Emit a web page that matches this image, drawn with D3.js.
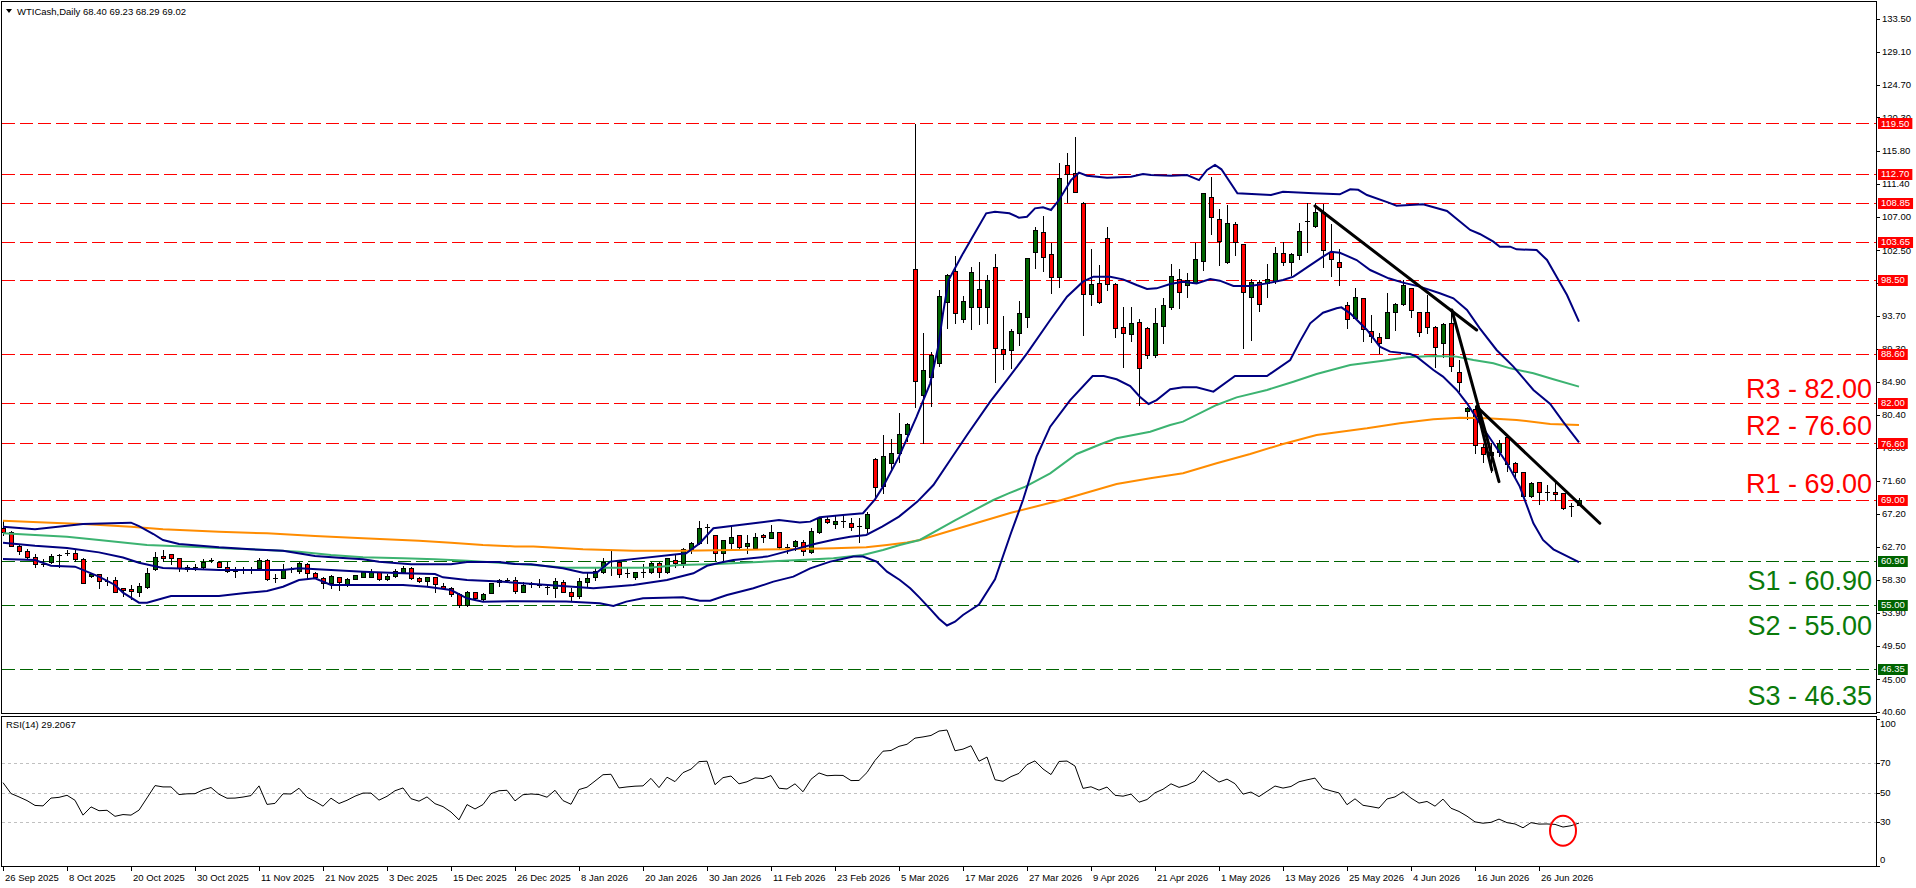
<!DOCTYPE html>
<html lang="en">
<head>
<meta charset="UTF-8">
<title>WTICash,Daily</title>
<style>
  body { margin: 0; background: #fff; }
  svg { display: block; }
  text { font-family: "Liberation Sans", Arial, sans-serif; }
</style>
</head>
<body>
<svg width="1916" height="888"></svg>
<script src="https://d3js.org/d3.v7.min.js"></script>
<script>
// daily bars, 26 Sep 2025 .. early Jul 2026
var open = [65.30,64.68,62.81,62.14,61.42,60.40,60.75,61.50,61.80,61.87,
  61.07,58.83,59.05,58.20,58.30,57.18,57.10,56.73,57.40,59.73,
  61.50,61.74,61.20,59.73,60.00,60.00,60.95,60.66,60.08,59.50,
  59.55,59.70,59.86,60.97,58.50,58.52,59.70,59.55,60.39,59.19,
  58.52,57.85,58.74,57.72,58.39,58.74,58.65,59.32,58.39,58.83,
  59.32,59.86,58.52,58.16,58.65,57.54,57.18,56.37,54.94,56.64,
  55.70,56.50,57.98,58.30,58.25,56.74,57.72,57.60,57.35,57.18,
  57.99,56.65,56.15,58.07,58.74,59.41,60.80,60.76,59.20,58.65,
  59.33,59.41,60.53,59.41,60.98,60.62,62.41,63.31,65.30,64.33,
  61.87,63.31,64.33,62.90,62.63,64.33,63.89,64.69,62.77,62.86,
  63.44,62.10,64.78,66.43,65.76,66.10,65.90,65.45,65.23,74.48,
  70.92,74.03,75.28,77.82,99.94,83.10,85.46,87.34,95.61,99.76,
  93.24,94.94,97.26,94.94,100.30,89.22,89.17,91.45,93.60,102.31,
  104.99,101.99,98.87,113.93,112.81,108.88,96.59,98.06,104.10,97.93,
  92.17,91.23,92.84,92.03,88.46,92.40,94.85,98.60,97.84,98.15,
  101.10,109.59,106.64,100.97,105.97,103.34,96.28,98.20,98.06,98.42,
  102.08,100.97,101.86,106.30,105.75,107.58,102.22,100.88,95.16,93.46,
  96.06,91.72,90.92,90.78,94.27,95.30,97.40,94.27,94.27,92.17,
  90.11,92.70,86.23,80.95,81.18,76.17,75.06,75.50,77.51,73.94,
  72.82,69.60,71.39,70.15,70.15,69.92,68.20,68.40]
var high = [66.34,64.90,63.12,62.45,61.78,61.07,61.74,61.78,62.30,62.45,
  61.20,59.30,59.10,58.74,58.65,57.20,57.60,57.85,59.86,62.10,
  62.30,61.74,61.20,60.30,60.50,61.07,61.20,60.90,60.75,60.08,
  60.08,60.10,61.20,61.07,59.05,60.40,60.08,60.75,60.53,59.40,
  58.65,58.96,58.74,58.52,58.96,59.50,59.77,59.41,59.05,59.77,
  60.17,60.08,58.74,58.74,58.74,57.85,57.40,56.50,56.87,56.73,
  56.50,57.85,58.43,58.60,58.65,58.07,58.07,58.43,57.63,58.52,
  58.30,57.18,58.52,59.41,59.86,61.20,62.19,60.85,60.00,59.41,
  60.44,60.76,60.76,61.20,61.65,62.54,63.44,66.21,65.81,64.33,
  63.66,65.45,64.33,64.33,64.56,64.47,65.67,64.69,63.13,63.66,
  63.66,65.23,66.79,66.93,67.01,67.10,66.57,66.57,67.46,74.60,
  77.74,77.16,80.64,79.30,119.42,91.40,88.85,97.17,99.27,101.73,
  96.40,100.30,100.97,99.18,102.00,93.68,91.90,95.74,101.42,105.66,
  107.09,103.51,114.15,115.49,117.63,109.01,102.62,100.52,105.66,98.06,
  94.94,94.94,93.24,92.20,94.72,96.06,100.66,99.94,99.40,103.51,
  110.13,112.36,107.98,108.57,106.33,103.34,98.60,98.51,100.66,102.89,
  103.65,102.17,106.11,108.79,108.79,108.70,106.02,102.62,95.61,97.40,
  96.06,93.82,91.36,96.73,95.39,98.51,97.40,94.27,96.50,92.35,
  92.70,94.27,87.79,81.53,81.62,76.53,76.62,77.07,77.74,74.16,
  72.82,71.48,71.48,71.03,71.48,69.92,68.67,69.23]
var low = [64.33,62.80,61.78,61.07,60.08,60.20,60.62,60.10,61.60,60.90,
  57.85,58.70,57.20,57.63,56.64,56.15,55.70,56.20,57.18,59.64,
  60.90,60.44,59.50,59.50,59.64,59.95,60.66,60.08,59.40,58.65,
  59.30,59.30,59.77,58.30,57.98,58.52,59.40,59.20,58.52,58.52,
  57.20,57.18,56.96,57.49,58.39,58.65,58.65,58.30,58.30,58.65,
  59.19,58.39,58.07,57.63,56.73,57.09,56.15,54.72,54.85,55.60,
  55.60,56.50,57.54,58.00,56.50,56.74,57.40,57.40,56.37,56.06,
  56.65,55.53,55.84,57.40,58.30,59.19,58.97,58.74,58.65,58.43,
  58.74,59.28,58.65,59.28,60.09,60.09,61.87,63.13,63.31,60.98,
  60.76,62.41,62.41,61.96,62.54,63.44,63.89,62.54,61.87,62.32,
  61.65,61.96,64.65,65.90,65.32,65.45,65.00,63.44,64.78,69.10,
  70.00,73.00,74.16,76.97,81.50,76.62,81.62,87.00,92.03,92.79,
  92.90,91.90,92.60,92.79,84.80,86.60,86.67,89.80,92.26,100.07,
  99.76,96.72,97.62,109.01,110.26,91.10,95.20,95.48,97.17,90.90,
  86.89,90.38,81.76,88.00,88.15,90.02,94.58,94.80,96.28,98.06,
  99.85,104.68,100.52,100.75,101.86,89.44,90.47,94.40,96.19,98.06,
  100.52,99.18,101.28,102.31,105.66,100.30,99.05,97.84,92.12,93.46,
  90.38,90.25,88.77,90.69,91.81,95.16,93.50,91.00,91.45,86.90,
  88.15,86.36,83.68,79.84,75.28,74.16,72.82,74.92,72.96,72.15,
  69.47,69.38,68.44,69.03,69.03,67.77,66.88,68.29]
var close = [64.70,62.81,62.14,61.42,60.39,60.30,61.47,61.60,61.90,61.07,
  57.85,59.10,58.16,58.22,56.73,56.96,56.82,57.45,59.19,61.42,
  61.20,61.20,59.95,60.08,60.10,60.66,61.00,60.08,59.50,59.52,
  59.64,59.80,60.97,58.39,58.52,59.77,59.75,60.53,59.28,58.65,
  57.85,58.83,57.98,58.39,58.92,59.32,59.32,58.39,58.83,59.50,
  59.86,58.52,58.16,58.65,57.72,57.27,56.42,54.94,56.64,55.84,
  56.37,57.85,58.30,58.35,56.78,57.63,57.74,57.65,57.30,58.16,
  56.74,56.15,58.16,58.52,59.55,60.76,60.85,59.06,59.22,59.33,
  59.38,60.53,59.41,61.20,60.62,62.41,63.22,65.23,65.40,61.96,
  63.66,64.11,62.77,63.22,64.11,64.02,64.69,62.68,62.54,63.53,
  62.19,64.87,66.57,66.12,66.21,66.20,65.45,65.47,67.15,70.72,
  74.92,75.28,77.83,79.21,85.02,86.45,88.46,96.37,99.18,94.04,
  95.70,99.54,94.85,98.51,89.35,88.59,91.72,94.04,101.42,105.20,
  101.64,98.96,112.14,112.72,110.26,96.59,97.97,95.61,97.97,92.03,
  91.36,92.70,86.76,88.40,92.70,95.16,99.09,96.94,98.51,101.28,
  110.13,106.91,103.78,106.11,103.56,96.94,98.29,95.29,98.60,102.17,
  100.97,102.00,105.12,106.36,107.58,102.53,101.28,100.21,93.24,96.19,
  91.90,91.00,90.02,94.27,95.30,97.84,94.49,91.59,92.26,89.58,
  92.62,87.03,84.80,81.31,76.40,75.19,75.50,76.62,73.85,72.82,
  69.60,71.26,70.05,70.10,69.83,67.91,68.25,69.02]

// RSI(14), one value per bar
var rsi = [56.7,49.3,47.0,44.5,41.2,40.9,46.2,46.7,48.1,44.7,
  34.6,40.2,37.6,37.9,33.8,35.0,34.6,38.0,46.3,54.7,
  53.8,53.8,48.6,49.1,49.2,51.8,53.4,48.8,46.1,46.2,
  46.9,47.9,54.5,41.9,42.6,49.1,49.0,52.9,46.8,44.0,
  40.7,46.1,42.5,44.7,47.5,49.6,49.6,44.8,47.4,51.2,
  53.1,45.8,44.1,47.0,42.4,40.4,36.7,31.4,41.8,38.8,
  41.8,49.2,51.2,51.5,44.3,48.5,49.0,48.6,46.8,51.5,
  44.5,42.0,52.0,53.6,57.8,62.1,62.4,53.1,53.8,54.3,
  54.5,59.6,53.3,60.4,57.4,63.5,65.9,71.0,71.3,55.3,
  60.1,61.2,55.9,57.3,59.9,59.5,61.5,52.9,52.4,55.9,
  50.5,59.0,63.3,61.4,61.7,61.6,58.1,58.2,63.6,71.8,
  78.1,78.6,81.4,82.8,87.0,87.8,88.8,91.8,92.5,78.4,
  79.5,81.8,71.3,74.1,58.7,57.6,60.8,63.0,69.0,71.5,
  66.0,62.2,71.1,71.4,68.0,52.8,53.9,51.6,53.7,48.1,
  47.5,48.9,43.4,45.2,49.8,52.2,55.9,53.5,55.0,57.7,
  64.9,60.8,57.1,59.1,56.0,48.9,50.3,47.2,50.8,54.4,
  53.0,54.1,57.3,58.6,59.8,52.7,51.1,49.7,41.7,45.7,
  41.3,40.4,39.4,45.6,47.0,50.5,46.2,42.8,43.9,40.7,
  45.5,39.3,37.1,33.9,30.0,29.1,29.7,31.9,29.5,28.6,
  26.0,29.5,28.5,28.6,28.3,26.5,27.4,29.21]

// indicator lines as [bar, value]
var bbUpper = [[0,65.44],[4,65.09],[10,65.8],[16,65.98],[17,65.53],[18.8,64.46],[20,63.66],[22,63.12],[27,62.67],[31,62.41],[35,62.23],[39,61.51],[42,61.29],[45,61.07],[47,60.75],[51,60.4],[56,60.4],[58,60.71],[62,60.71],[64,60.44],[66,60.4],[70,59.86],[72.5,59.28],[74.2,59.28],[75.9,60.76],[85.4,61.87],[87.1,63.22],[88.8,65.23],[91.3,65.58],[94.6,65.99],[97,66.34],[99.6,65.99],[100.9,66.12],[102.1,66.7],[105,67.0],[107.5,67.24],[109,69.11],[110,70.81],[112,74.83],[114.2,80.19],[115.9,84.66],[116.9,89.57],[117.5,94.04],[118.2,98.5],[120,102.08],[121.1,104.1],[122.9,107.45],[124,107.67],[125.8,107.45],[127,106.87],[128,107.0],[129,108.12],[130,108.25],[131,107.9],[132,109.23],[133.5,111.9],[134.5,112.9],[135.5,112.5],[138,112.23],[141,112.36],[142.5,112.72],[143.5,112.59],[146,112.5],[148,112.59],[149.5,111.9],[150.5,113.26],[151.5,113.93],[152.3,113.35],[154.3,110.13],[158.5,109.9],[160,110.35],[163.8,110.13],[167.1,110.0],[168.4,110.67],[169.4,110.6],[170.5,109.9],[173.2,108.88],[174.2,108.48],[177.5,108.66],[180.5,107.76],[183.4,105.22],[184.6,104.68],[186.3,103.65],[187.1,102.98],[188.4,102.98],[189.2,102.62],[191.7,102.53],[193,101.2],[194.2,98.96],[195.5,96.5],[197,92.93]]
var bbMid = [[0,63.3],[4,62.9],[8,62.6],[12,62.0],[15,61.3],[17,60.6],[20,59.9],[23,59.8],[27,59.64],[35,59.64],[37,59.86],[41,59.64],[45,59.41],[50,59.19],[54,59.1],[55,58.65],[58,58.3],[62.1,58.08],[66.3,57.76],[72.1,57.32],[73.8,57.18],[78.8,57.63],[83,58.3],[86.3,59.19],[88,60.2],[89.6,60.6],[91.3,60.98],[95.5,61.43],[97.5,62.0],[99.6,62.6],[101.7,63.2],[103.8,63.7],[105.9,64.1],[107.9,64.33],[109.9,65.45],[112,66.79],[114.3,68.8],[116.3,71.03],[118.4,74.38],[120.5,77.73],[123.4,82.2],[125.5,85.11],[128,88.68],[130.9,93.15],[133,96.28],[135,98.29],[136.3,98.96],[138.4,98.96],[140,98.6],[141.7,97.84],[143,97.3],[144.2,97.39],[145.9,97.97],[147.5,98.29],[149.2,98.06],[150.9,98.64],[152.1,98.42],[153.8,97.71],[155.9,97.71],[158,98.06],[160,98.51],[161.3,98.96],[163,100.21],[165,101.64],[166,102.31],[167.1,102.17],[169.2,101.19],[170.9,99.85],[173.2,98.74],[175,98.16],[177.1,97.62],[179.6,96.73],[181.3,96.06],[183,94.49],[184.6,92.03],[186.7,89.13],[188.8,86.9],[191.3,83.77],[193.4,81.89],[195,79.52],[197,76.75]]
var bbLower = [[0,61.11],[4,60.98],[6,60.22],[9,60.08],[12,58.74],[14,57.63],[15,56.6],[17,55.26],[18,55.26],[20,55.84],[21,56.15],[27,56.15],[30,56.51],[33,56.82],[35,57.4],[37,58.3],[39,58.52],[41,57.63],[50,57.63],[53,57.4],[56,56.95],[58,55.84],[60,55.39],[64,55.45],[70.4,55.4],[74.6,55.17],[76.3,54.82],[77.9,55.4],[80,55.84],[85,55.98],[87.1,55.53],[88.4,55.53],[90.5,56.29],[93.8,57.18],[96.3,58.08],[98.8,58.75],[100.9,59.86],[103.4,60.76],[106.3,61.43],[107.5,61.43],[109.2,60.76],[110.5,59.42],[112.1,58.3],[113.4,57.18],[114.6,55.9],[116,54.3],[117,53.1],[118,52.2],[119,52.7],[120,53.6],[122,55.0],[124,58.4],[126,64.6],[127.5,69.02],[129.2,74.83],[130.9,78.85],[133.4,82.42],[136.2,85.64],[137.6,85.64],[139.2,85.2],[140.9,84.3],[142.1,82.87],[143.2,81.89],[144.2,82.42],[145.9,83.86],[147.5,84.12],[149.2,84.12],[151.3,83.54],[154,85.64],[158,85.64],[160.9,87.79],[162.1,90.25],[163.4,92.7],[165,94.13],[166.7,94.72],[167.3,94.85],[168.4,94.04],[170.5,91.81],[172.1,89.58],[173.4,88.91],[175.9,88.59],[176.7,88.24],[178.8,86.45],[180,85.56],[181.7,83.77],[183,81.98],[184.6,79.3],[186.3,76.62],[188,73.94],[189.6,70.81],[191.3,65.9],[192.5,63.66],[193.8,62.41],[197,60.7]]
var maFast = [[0,64.55],[8,64.1],[12,63.66],[18,62.99],[25,62.67],[29,62.5],[33,62.32],[37,62.09],[41,61.65],[45,61.33],[50,61.2],[54,61.07],[58,60.89],[62,60.62],[66.3,60.31],[70.4,59.95],[80.7,59.95],[84.6,60.31],[89.2,60.44],[95.5,60.76],[99.6,60.98],[103.8,61.2],[107.5,61.65],[110,62.32],[112.1,62.99],[114.6,63.66],[119,66.3],[123.8,69.02],[125.7,69.9],[127.8,70.81],[130.9,72.6],[134.2,75.19],[137.5,76.62],[139.2,77.29],[143.4,78.18],[145.9,79.07],[147.5,79.52],[151.7,81.76],[154.2,82.78],[158,83.77],[161.3,84.88],[164.2,85.91],[168.4,87.12],[172.5,87.7],[175.5,88.15],[178.8,88.33],[181.7,88.24],[183.8,87.79],[186.3,87.34],[188.4,86.67],[191.3,86.0],[193.8,85.2],[197,84.22]]
var maSlow = [[0,66.25],[6,65.98],[10,65.8],[16,65.44],[20,65.09],[27,64.77],[33,64.55],[39,64.19],[45,63.88],[52,63.57],[56,63.3],[60,62.99],[64,62.8],[66.3,62.77],[72.5,62.41],[78.8,62.23],[85,62.23],[91.3,62.32],[97.5,62.41],[103.8,62.54],[107.9,62.68],[110.5,62.99],[113,63.31],[114.6,63.66],[120,65.4],[126,67.3],[132.3,69.02],[135.1,69.9],[139.2,71.17],[143.4,71.93],[147.5,72.6],[151.7,73.94],[155.9,75.19],[160,76.53],[164.2,77.73],[166.3,78.05],[170.5,78.63],[174.6,79.3],[178.8,79.84],[182.1,80.06],[185.5,79.97],[189.2,79.75],[193.4,79.21],[197,79.08]]

var resLevels = [119.50, 112.70, 108.85, 103.65, 98.50, 88.60, 82.00, 76.60, 69.00]
var supLevels = [60.90, 55.00, 46.35]
var levelNames = ['R3 - 82.00', 'R2 - 76.60', 'R1 - 69.00', 'S1 - 60.90', 'S2 - 55.00', 'S3 - 46.35']
var levelNameAt = [82.00, 76.60, 69.00, 60.90, 55.00, 46.35]
// trend lines: [bar1, price1, bar2, price2]
var trendLines = [[164, 108.43, 184.2, 91.81], [181.1, 94.49, 187.0, 71.48], [184.2, 81.53, 186.1, 73.04], [184.2, 81.53, 199.6, 65.9]]

var priceTicks = [133.50,129.10,124.70,120.30,115.80,111.40,107.00,102.50,98.10,93.70,89.30,84.90,80.40,76.00,71.60,67.20,62.70,58.30,53.90,49.50,45.00,40.60]
var rsiTicks = [100, 70, 50, 30, 0]
var rsiLevels = [70, 50, 30]
var dateIdx = [0,8,16,24,32,40,48,56,64,72,80,88,96,104,112,120,128,136,144,152,160,168,176,184,192]
var dateLabels = ['26 Sep 2025','8 Oct 2025','20 Oct 2025','30 Oct 2025','11 Nov 2025','21 Nov 2025','3 Dec 2025','15 Dec 2025','26 Dec 2025','8 Jan 2026','20 Jan 2026','30 Jan 2026','11 Feb 2026','23 Feb 2026','5 Mar 2026','17 Mar 2026','27 Mar 2026','9 Apr 2026','21 Apr 2026','1 May 2026','13 May 2026','25 May 2026','4 Jun 2026','16 Jun 2026','26 Jun 2026']
var circleAt = [195, 24]

var svg = d3.select('svg')
var L = 2, R = 1876, mainTop = 2, mainBot = 714, rsiTop = 717, rsiBot = 867
var fs = 9.5

var x = d3.scaleLinear().domain([0, 234]).range([3, 1875])
var y = d3.scaleLinear().domain([40.6, 133.5]).range([712, 19])
var ry = d3.scaleLinear().domain([0, 100]).range([866, 719])

var defs = svg.append('defs')
defs.append('clipPath').attr('id', 'clipMain').append('rect')
    .attr('x', L).attr('y', mainTop).attr('width', R - L).attr('height', mainBot - mainTop)
defs.append('clipPath').attr('id', 'clipRsi').append('rect')
    .attr('x', L).attr('y', rsiTop).attr('width', R - L).attr('height', rsiBot - rsiTop)

var main = svg.append('g').attr('clip-path', 'url(#clipMain)')

// horizontal levels
main.selectAll('line.res').data(resLevels).enter().append('line')
    .attr('x1', L).attr('x2', R)
    .attr('y1', d => Math.round(y(d)) + 0.5).attr('y2', d => Math.round(y(d)) + 0.5)
    .attr('stroke', '#ff0000').attr('stroke-dasharray', '13,5')
main.selectAll('line.sup').data(supLevels).enter().append('line')
    .attr('x1', L).attr('x2', R)
    .attr('y1', d => Math.round(y(d)) + 0.5).attr('y2', d => Math.round(y(d)) + 0.5)
    .attr('stroke', '#006400').attr('stroke-dasharray', '13,5')

// candles
var bars = d3.range(close.length)
var gc = main.append('g').attr('shape-rendering', 'crispEdges')
gc.selectAll('line.wick').data(bars).enter().append('line')
    .attr('x1', i => Math.round(x(i)) + 0.5).attr('x2', i => Math.round(x(i)) + 0.5)
    .attr('y1', i => Math.round(y(high[i]))).attr('y2', i => Math.round(y(low[i])) + 1)
    .attr('stroke', '#000')
bars.forEach(function (i) {
    var cx = Math.round(x(i))
    var top = Math.round(y(Math.max(open[i], close[i])))
    var bot = Math.round(y(Math.min(open[i], close[i])))
    if (bot - top < 2) {
        gc.append('line').attr('x1', cx - 2).attr('x2', cx + 3)
            .attr('y1', top + 0.5).attr('y2', top + 0.5).attr('stroke', '#000')
    } else {
        gc.append('rect').attr('x', cx - 1.5).attr('y', top + 0.5)
            .attr('width', 4).attr('height', bot - top)
            .attr('fill', close[i] >= open[i] ? '#006400' : '#ff0000')
            .attr('stroke', '#000')
    }
})

var line = d3.line().x(d => x(d[0])).y(d => y(d[1]))
main.append('path').attr('d', line(maSlow)).attr('fill', 'none').attr('stroke', '#ff8c00').attr('stroke-width', 2)
main.append('path').attr('d', line(maFast)).attr('fill', 'none').attr('stroke', '#3cb371').attr('stroke-width', 2)
;[bbUpper, bbMid, bbLower].forEach(function (s) {
    main.append('path').attr('d', line(s)).attr('fill', 'none').attr('stroke', '#000080').attr('stroke-width', 2)
})

main.selectAll('line.trend').data(trendLines).enter().append('line')
    .attr('x1', d => x(d[0])).attr('y1', d => y(d[1]))
    .attr('x2', d => x(d[2])).attr('y2', d => y(d[3]))
    .attr('stroke', '#000').attr('stroke-width', 3).attr('stroke-linecap', 'round')

// big level captions
var capDy = [-5, -8, -7, 29, 30, 36]
main.selectAll('text.cap').data(levelNames).enter().append('text')
    .attr('x', 1872).attr('y', (d, k) => y(levelNameAt[k]) + capDy[k])
    .attr('text-anchor', 'end').attr('font-size', 27)
    .attr('fill', (d, k) => k < 3 ? '#ff0000' : '#0a7a0a')
    .text(d => d)

// title
svg.append('path').attr('d', 'M6,9L12,9L9,13Z').attr('fill', '#000')
svg.append('text').attr('x', 17).attr('y', 15).attr('font-size', fs)
    .text('WTICash,Daily  68.40 69.23 68.29 69.02')

// price axis
var ga = svg.append('g').attr('shape-rendering', 'crispEdges')
ga.selectAll('line.pt').data(priceTicks).enter().append('line')
    .attr('x1', R).attr('x2', R + 4)
    .attr('y1', d => Math.round(y(d)) + 0.5).attr('y2', d => Math.round(y(d)) + 0.5)
    .attr('stroke', '#000')
svg.selectAll('text.pt').data(priceTicks).enter().append('text')
    .attr('x', R + 6).attr('y', d => y(d)).attr('dy', '0.35em')
    .attr('font-size', fs).text(d => d3.format('.2f')(d))

function levelTag(v, col) {
    var g = svg.append('g')
    var r = g.append('rect').attr('fill', col)
    var t = g.append('text').attr('x', R + 5).attr('y', y(v)).attr('dy', '0.35em')
        .attr('font-size', fs).attr('fill', '#fff').text(d3.format('.2f')(v))
    var w = t.node().getComputedTextLength()
    r.attr('x', R + 2).attr('y', Math.round(y(v)) - 5).attr('width', w + 6).attr('height', 11)
}
resLevels.forEach(v => levelTag(v, '#ff0000'))
supLevels.forEach(v => levelTag(v, '#006400'))

// RSI window
var rs = svg.append('g').attr('clip-path', 'url(#clipRsi)')
rs.selectAll('line.lv').data(rsiLevels).enter().append('line')
    .attr('x1', L).attr('x2', R)
    .attr('y1', d => Math.round(ry(d)) + 0.5).attr('y2', d => Math.round(ry(d)) + 0.5)
    .attr('stroke', '#c0c0c0').attr('stroke-dasharray', '3,3')
var rline = d3.line().x((d, i) => x(i)).y(d => ry(d))
rs.append('path').attr('d', rline(rsi)).attr('fill', 'none').attr('stroke', '#000').attr('stroke-width', 1)
svg.append('ellipse').attr('cx', x(circleAt[0])).attr('cy', ry(circleAt[1]))
    .attr('rx', 13).attr('ry', 15).attr('fill', 'none').attr('stroke', '#ff0000').attr('stroke-width', 2)
svg.append('text').attr('x', 6).attr('y', 728).attr('font-size', fs).text('RSI(14) 29.2067')

ga.selectAll('line.rt').data(rsiTicks).enter().append('line')
    .attr('x1', R).attr('x2', R + 4)
    .attr('y1', d => Math.round(ry(d)) + 0.5).attr('y2', d => Math.round(ry(d)) + 0.5)
    .attr('stroke', '#000')
svg.selectAll('text.rt').data(rsiTicks).enter().append('text')
    .attr('x', R + 4).attr('y', d => Math.min(860, Math.max(724, ry(d)))).attr('dy', '0.35em')
    .attr('font-size', fs).text(d => d)

// frames
var fr = svg.append('g').attr('fill', 'none').attr('stroke', '#000').attr('shape-rendering', 'crispEdges')
fr.append('rect').attr('x', L - 0.5).attr('y', mainTop - 0.5).attr('width', R - L + 1).attr('height', mainBot - mainTop)
fr.append('rect').attr('x', L - 0.5).attr('y', rsiTop - 0.5).attr('width', R - L + 1).attr('height', rsiBot - rsiTop)

// date axis
ga.selectAll('line.dt').data(dateIdx).enter().append('line')
    .attr('x1', i => Math.round(x(i)) + 0.5).attr('x2', i => Math.round(x(i)) + 0.5)
    .attr('y1', rsiBot).attr('y2', rsiBot + 4).attr('stroke', '#000')
svg.selectAll('text.dt').data(dateIdx).enter().append('text')
    .attr('x', i => x(i) + 2).attr('y', 881).attr('font-size', fs)
    .text((i, k) => dateLabels[k])
</script>
</body>
</html>
